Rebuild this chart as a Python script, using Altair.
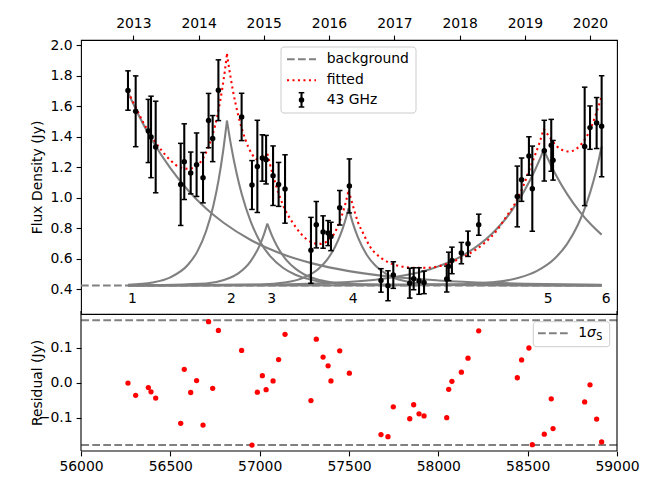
import altair as alt
import pandas as pd

# ---------------- observations (43 GHz) ----------------
mjd = [56263, 56306, 56377, 56392, 56418, 56558, 56578, 56614, 56647, 56683,
       56714, 56737, 56769, 56899, 56957, 56987, 57015, 57036, 57075, 57106,
       57142, 57287, 57317, 57355, 57383, 57399, 57448, 57502, 57679, 57718,
       57748, 57840, 57862, 57892, 57920, 58047, 58058, 58076, 58129, 58166,
       58226, 58442, 58466, 58507, 58526, 58593, 58632, 58642, 58819, 58849,
       58886, 58914]
flux = [1.702, 1.566, 1.437, 1.398, 1.332, 1.087, 1.236, 1.162, 1.216, 1.131,
        1.505, 1.387, 1.704, 1.529, 1.083, 1.205, 1.260, 1.249, 1.144, 1.087,
        1.057, 0.655, 0.823, 0.775, 0.768, 0.746, 0.934, 1.077, 0.458, 0.423,
        0.493, 0.440, 0.469, 0.454, 0.445, 0.467, 0.550, 0.589, 0.637, 0.698,
        0.823, 1.008, 1.118, 1.273, 1.059, 1.308, 1.343, 1.245, 1.336, 1.459,
        1.489, 1.468]
flux_err = [0.129, 0.232, 0.207, 0.267, 0.300, 0.269, 0.248, 0.137, 0.208, 0.165,
            0.178, 0.151, 0.199, 0.155, 0.160, 0.302, 0.152, 0.159, 0.195, 0.144,
            0.224, 0.216, 0.152, 0.106, 0.082, 0.093, 0.113, 0.177, 0.077, 0.098,
            0.087, 0.098, 0.072, 0.087, 0.074, 0.085, 0.093, 0.087, 0.070, 0.083,
            0.069, 0.199, 0.142, 0.126, 0.279, 0.199, 0.170, 0.130, 0.388, 0.142,
            0.167, 0.331]
residual = [-0.001, -0.036, -0.014, -0.026, -0.044, -0.116, 0.038, -0.028, 0.006, -0.121,
            0.174, -0.016, 0.149, 0.092, -0.178, -0.027, 0.020, -0.020, 0.005, 0.066,
            0.138, -0.051, 0.124, 0.073, 0.048, 0.005, 0.091, 0.027, -0.148, -0.154,
            -0.069, -0.103, -0.063, -0.089, -0.095, -0.100, -0.019, 0.004, 0.030, 0.070,
            0.148, 0.014, 0.065, 0.099, -0.177, -0.147, -0.046, -0.131, -0.055, -0.006,
            -0.104, -0.169]

# ---------------- background level ----------------
bg_mjd = [56000, 58914]
bg_flux = [0.425, 0.425]

# ---------------- flare components (background + flare) ----------------
f1_decay_mjd = [56263, 56320, 56400, 56500, 56600, 56700, 56800, 56950, 57100, 57300, 57500, 57750, 58000, 58300, 58600, 58914]
f1_decay_flux = [1.690, 1.547, 1.373, 1.193, 1.047, 0.929, 0.834, 0.723, 0.642, 0.568, 0.519, 0.480, 0.458, 0.442, 0.434, 0.430]

f2_rise_mjd = [56263, 56400, 56500, 56600, 56650, 56700, 56740, 56770, 56795, 56817]
f2_rise_flux = [0.430, 0.445, 0.478, 0.562, 0.645, 0.780, 0.944, 1.115, 1.301, 1.505]
f2_decay_mjd = [56817, 56840, 56870, 56900, 56950, 57000, 57060, 57130, 57200, 57300, 57450, 57700, 58914]
f2_decay_flux = [1.505, 1.341, 1.165, 1.022, 0.843, 0.717, 0.615, 0.541, 0.495, 0.459, 0.437, 0.429, 0.425]

f3_rise_mjd = [56263, 56700, 56800, 56880, 56950, 57000, 57025, 57043]
f3_rise_flux = [0.425, 0.438, 0.461, 0.504, 0.585, 0.688, 0.763, 0.830]
f3_decay_mjd = [57043, 57070, 57100, 57150, 57200, 57250, 57320, 57400, 57550, 58914]
f3_decay_flux = [0.830, 0.748, 0.677, 0.591, 0.535, 0.497, 0.465, 0.446, 0.431, 0.425]

f4_rise_mjd = [56263, 57000, 57150, 57250, 57330, 57380, 57420, 57450, 57475, 57498]
f4_rise_flux = [0.425, 0.431, 0.446, 0.478, 0.535, 0.598, 0.674, 0.751, 0.835, 0.930]
f4_decay_mjd = [57498, 57520, 57550, 57600, 57650, 57720, 57800, 57950, 58914]
f4_decay_flux = [0.930, 0.838, 0.740, 0.625, 0.552, 0.492, 0.457, 0.433, 0.425]

f5_rise_mjd = [56263, 57000, 57400, 57700, 57950, 58150, 58300, 58400, 58480, 58540, 58565, 58590]
f5_rise_flux = [0.425, 0.429, 0.442, 0.471, 0.530, 0.630, 0.764, 0.897, 1.042, 1.178, 1.244, 1.315]
f5_decay_mjd = [58590, 58620, 58650, 58720, 58800, 58860, 58914]
f5_decay_flux = [1.315, 1.238, 1.167, 1.025, 0.896, 0.818, 0.758]

f6_rise_mjd = [56263, 57800, 58100, 58300, 58450, 58550, 58650, 58720, 58780, 58830, 58870, 58895, 58914]
f6_rise_flux = [0.425, 0.426, 0.431, 0.445, 0.475, 0.519, 0.600, 0.696, 0.819, 0.963, 1.116, 1.233, 1.335]

# ---------------- fitted total (red dotted) ----------------
fit_a_mjd = [56263, 56306, 56350, 56400, 56450, 56500, 56550, 56600, 56640, 56680, 56714, 56737, 56765, 56790, 56805, 56817]
fit_a_flux = [1.695, 1.592, 1.490, 1.393, 1.311, 1.246, 1.201, 1.189, 1.202, 1.252, 1.335, 1.414, 1.548, 1.710, 1.830, 1.942]
fit_b_mjd = [56817, 56830, 56850, 56880, 56920, 56960, 57000, 57020, 57043]
fit_b_flux = [1.942, 1.841, 1.704, 1.540, 1.381, 1.280, 1.245, 1.255, 1.288]
fit_c_mjd = [57043, 57075, 57106, 57142, 57180, 57230, 57270, 57300, 57330, 57360, 57390, 57420, 57448, 57475, 57498]
fit_c_flux = [1.288, 1.145, 1.028, 0.922, 0.845, 0.765, 0.722, 0.703, 0.697, 0.703, 0.725, 0.770, 0.845, 0.940, 1.048]
fit_d_mjd = [57498, 57520, 57550, 57580, 57620, 57679, 57718, 57760, 57820, 57880, 57940, 58000, 58050,
             58100, 58150, 58200, 58260, 58320, 58380, 58442, 58480, 58507, 58540, 58565, 58590]
fit_d_flux = [1.048, 0.955, 0.840, 0.765, 0.675, 0.606, 0.577, 0.558, 0.545, 0.540, 0.541, 0.550, 0.566,
              0.590, 0.618, 0.652, 0.705, 0.775, 0.875, 0.990, 1.090, 1.174, 1.275, 1.355, 1.452]
fit_e_mjd = [58590, 58632, 58660, 58700, 58733, 58770, 58800, 58830, 58860, 58890, 58914]
fit_e_flux = [1.452, 1.382, 1.340, 1.310, 1.303, 1.318, 1.350, 1.400, 1.475, 1.575, 1.662]

# ---------------- annotations / ticks ----------------
flare_times = [56263, 56817, 57043, 57498, 58590, 58914]
flare_labels = ["1", "2", "3", "4", "5", "6"]
years = [2013, 2014, 2015, 2016, 2017, 2018, 2019, 2020]
year_mjd = [56293, 56658, 57023, 57388, 57754, 58119, 58484, 58849]
mjd_ticks = [56000, 56500, 57000, 57500, 58000, 58500, 59000]
flux_ticks = [0.4, 0.6, 0.8, 1.0, 1.2, 1.4, 1.6, 1.8, 2.0]
res_ticks = [-0.1, 0.0, 0.1]
sigma_s = 0.178
legend_labels = ["background", "fitted", "43 GHz"]

# ---------------- frames ----------------
obs = pd.DataFrame({"mjd": mjd, "flux": flux, "err": flux_err, "res": residual})
obs["lo"] = obs["flux"] - obs["err"]
obs["hi"] = obs["flux"] + obs["err"]

def long_df(segs):
    rows = []
    for name, (xs_, ys_) in segs.items():
        for x, y in zip(xs_, ys_):
            rows.append({"seg": name, "mjd": x, "flux": y})
    return pd.DataFrame(rows)

flares = long_df({
    "1d": (f1_decay_mjd, f1_decay_flux),
    "2r": (f2_rise_mjd, f2_rise_flux), "2d": (f2_decay_mjd, f2_decay_flux),
    "3r": (f3_rise_mjd, f3_rise_flux), "3d": (f3_decay_mjd, f3_decay_flux),
    "4r": (f4_rise_mjd, f4_rise_flux), "4d": (f4_decay_mjd, f4_decay_flux),
    "5r": (f5_rise_mjd, f5_rise_flux), "5d": (f5_decay_mjd, f5_decay_flux),
    "6r": (f6_rise_mjd, f6_rise_flux),
})
fit = long_df({
    "a": (fit_a_mjd, fit_a_flux), "b": (fit_b_mjd, fit_b_flux), "c": (fit_c_mjd, fit_c_flux),
    "d": (fit_d_mjd, fit_d_flux), "e": (fit_e_mjd, fit_e_flux),
})
bg = pd.DataFrame({"mjd": bg_mjd, "flux": bg_flux})
labels = pd.DataFrame({"t": flare_times, "label": flare_labels})
sig = pd.DataFrame({"y": [sigma_s, -sigma_s]})
one = pd.DataFrame({"k": [0]})

FONT = "DejaVu Sans"
FS = 13.9
LW = 2.08
FW = 1.1
GRAY = "#808080"
W, H1, H2 = 536, 274, 137

xs = alt.Scale(domain=[56000, 59000], nice=False, zero=False)
ys = alt.Scale(domain=[0.238, 2.033], nice=False, zero=False)
rs = alt.Scale(domain=[-0.195, 0.196], nice=False, zero=False)

year_expr = " : ".join(f"datum.value == {m} ? '{y}'" for m, y in zip(year_mjd, years)) + " : ''"
top_axis = alt.Axis(orient="top", values=year_mjd, labelExpr=year_expr, title=None,
                    labelFlush=False, labelOverlap=False, labelPadding=5)
flux_axis = alt.Axis(values=flux_ticks, format=".1f", title="Flux Density (Jy)",
                     titleX=-44, titleY=H1 / 2, titleAlign="center", titleBaseline="middle", titleAngle=270)

X = lambda f: alt.X(f, scale=xs, axis=top_axis)
Y = lambda f: alt.Y(f, scale=ys, axis=flux_axis)

bg_line = alt.Chart(bg).mark_line(color=GRAY, strokeWidth=LW, strokeDash=[7.7, 3.3]).encode(
    x=X("mjd:Q"), y=Y("flux:Q"))
flare_lines = alt.Chart(flares).mark_line(color=GRAY, strokeWidth=LW, interpolate="monotone").encode(
    x=X("mjd:Q"), y=Y("flux:Q"), detail="seg:N")
fit_lines = alt.Chart(fit).mark_line(color="red", strokeWidth=LW, strokeDash=[2.08, 3.4],
                                     interpolate="monotone").encode(
    x=X("mjd:Q"), y=Y("flux:Q"), detail="seg:N")
err_bars = alt.Chart(obs).mark_rule(color="black", strokeWidth=LW).encode(
    x=X("mjd:Q"), y=Y("lo:Q"), y2="hi:Q")
cap = dict(shape="M -1 0 L 1 0", filled=False, color="black", strokeWidth=1.5, size=30, opacity=1)
caps_hi = alt.Chart(obs).mark_point(**cap).encode(x=X("mjd:Q"), y=Y("hi:Q"))
caps_lo = alt.Chart(obs).mark_point(**cap).encode(x=X("mjd:Q"), y=Y("lo:Q"))
pts = alt.Chart(obs).mark_circle(color="black", size=30, opacity=1).encode(x=X("mjd:Q"), y=Y("flux:Q"))
flare_txt = alt.Chart(labels).mark_text(align="left", baseline="middle", font=FONT, fontSize=FS,
                                        color="black").encode(
    x=X("t:Q"), y=alt.Y(datum=0.335, scale=ys, axis=flux_axis), text="label:N")

# legend (top panel)
leg_box = alt.Chart(one).mark_rect(fill="white", fillOpacity=0.8, stroke="#cccccc", strokeWidth=1,
                                   cornerRadius=3).encode(
    x=alt.value(200), x2=alt.value(335), y=alt.value(7), y2=alt.value(73))
leg_bg = alt.Chart(one).mark_rule(color=GRAY, strokeWidth=LW, strokeDash=[7.7, 3.3]).encode(
    x=alt.value(206), x2=alt.value(235), y=alt.value(19.3))
leg_fit = alt.Chart(one).mark_rule(color="red", strokeWidth=LW, strokeDash=[2.08, 3.4]).encode(
    x=alt.value(206), x2=alt.value(235), y=alt.value(40.3))
leg_err = alt.Chart(one).mark_rule(color="black", strokeWidth=LW).encode(
    x=alt.value(220.5), y=alt.value(52.7), y2=alt.value(67))
leg_cap1 = alt.Chart(one).mark_rule(color="black", strokeWidth=1.5).encode(
    x=alt.value(217.7), x2=alt.value(223.3), y=alt.value(52.7))
leg_cap2 = alt.Chart(one).mark_rule(color="black", strokeWidth=1.5).encode(
    x=alt.value(217.7), x2=alt.value(223.3), y=alt.value(67))
leg_pt = alt.Chart(one).mark_circle(color="black", size=30, opacity=1).encode(
    x=alt.value(220.5), y=alt.value(60))
leg_txt = [
    alt.Chart(one).mark_text(align="left", baseline="middle", font=FONT, fontSize=FS, color="black").encode(
        x=alt.value(245.7), y=alt.value(yy), text=alt.value(lab))
    for lab, yy in zip(legend_labels, [19.3, 40.3, 60])
]

top = alt.layer(bg_line, flare_lines, fit_lines, err_bars, caps_hi, caps_lo, pts, flare_txt,
                leg_box, leg_bg, leg_fit, leg_err, leg_cap1, leg_cap2, leg_pt, *leg_txt
                ).properties(width=W, height=H1,
                             view=alt.ViewBackground(stroke="black", strokeWidth=FW))

# ---------------- residual panel ----------------
bottom_axis = alt.Axis(orient="bottom", values=mjd_ticks, format="d", title=None,
                       labelFlush=False, labelOverlap=False)
res_axis = alt.Axis(values=res_ticks, format=".1f", title="Residual (Jy)",
                    titleX=-44, titleY=H2 / 2, titleAlign="center", titleBaseline="middle", titleAngle=270)

sig_lines = alt.Chart(sig).mark_rule(color=GRAY, strokeWidth=LW, strokeDash=[7.7, 3.3]).encode(
    y=alt.Y("y:Q", scale=rs, axis=res_axis))
res_pts = alt.Chart(obs).mark_circle(color="red", size=28, opacity=1).encode(
    x=alt.X("mjd:Q", scale=xs, axis=bottom_axis), y=alt.Y("res:Q", scale=rs, axis=res_axis))

# frame of the residual panel: left, right and bottom edges (top edge is shared with the upper panel)
fr_left = alt.Chart(one).mark_rule(color="black", strokeWidth=FW).encode(
    x=alt.value(0), y=alt.value(-3), y2=alt.value(H2))
fr_right = alt.Chart(one).mark_rule(color="black", strokeWidth=FW).encode(
    x=alt.value(W), y=alt.value(-3), y2=alt.value(H2))
fr_bottom = alt.Chart(one).mark_rule(color="black", strokeWidth=FW).encode(
    x=alt.value(0), x2=alt.value(W), y=alt.value(H2))

r_box = alt.Chart(one).mark_rect(fill="white", fillOpacity=0.8, stroke="#cccccc", strokeWidth=1,
                                 cornerRadius=3).encode(
    x=alt.value(452.3), x2=alt.value(528.7), y=alt.value(7.7), y2=alt.value(32.7))
r_line = alt.Chart(one).mark_rule(color=GRAY, strokeWidth=LW, strokeDash=[7.7, 3.3]).encode(
    x=alt.value(457), x2=alt.value(486.7), y=alt.value(19.3))
r_t1 = alt.Chart(one).mark_text(align="left", baseline="middle", font=FONT, fontSize=FS, color="black").encode(
    x=alt.value(497.3), y=alt.value(19.3), text=alt.value("1"))
r_t2 = alt.Chart(one).mark_text(align="left", baseline="middle", font=FONT, fontSize=FS, fontStyle="italic",
                                color="black").encode(
    x=alt.value(506.1), y=alt.value(19.3), text=alt.value("σ"))
r_t3 = alt.Chart(one).mark_text(align="left", baseline="middle", font=FONT, fontSize=9.7, color="black").encode(
    x=alt.value(515.2), y=alt.value(23), text=alt.value("S"))

bottom = alt.layer(sig_lines, res_pts, fr_left, fr_right, fr_bottom, r_box, r_line, r_t1, r_t2, r_t3
                   ).properties(width=W, height=H2,
                                view=alt.ViewBackground(stroke="transparent"))

chart = alt.vconcat(top, bottom, spacing=0, bounds="flush").properties(
    padding={"left": 21, "top": 7, "right": 5, "bottom": 5}
).configure_axis(
    labelFont=FONT, labelFontSize=FS, titleFont=FONT, titleFontSize=FS, titleFontWeight="normal",
    labelColor="black", titleColor="black", tickColor="black", tickWidth=1.1, tickSize=4.9,
    labelPadding=4, domain=False, grid=False
)

chart.save("out.html", embed_options={"renderer": "svg", "actions": False})
